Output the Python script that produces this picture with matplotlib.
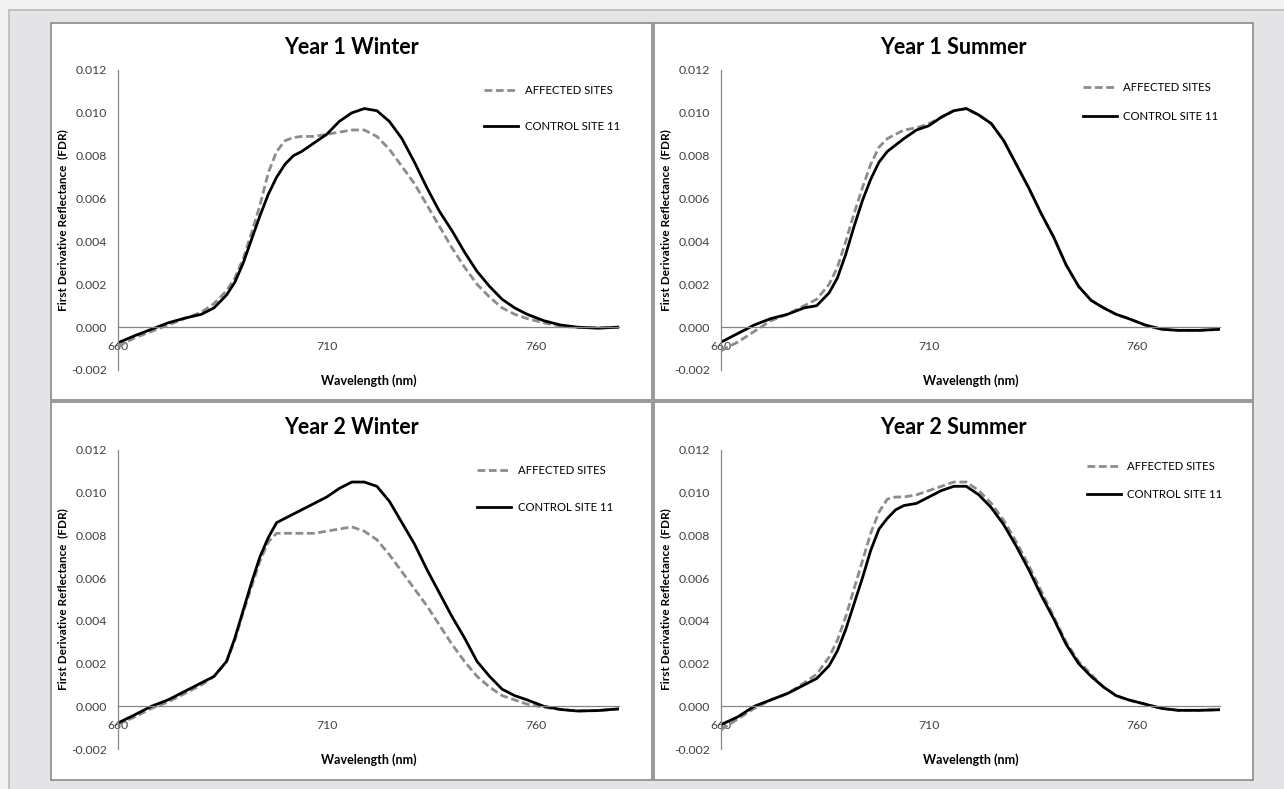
import numpy as np
import matplotlib
matplotlib.use("Agg")
import matplotlib.pyplot as plt
from matplotlib.patches import Rectangle

plt.rcParams['font.family'] = ['Lato', 'DejaVu Sans']

# wavelength grid (nm) shared by all panels
wavelength = [660, 664, 668, 672, 676, 680, 683, 686, 688, 690, 692, 694, 696, 698,
              700, 702, 704, 707, 710, 713, 716, 719, 722, 725, 728, 731, 734, 737,
              740, 743, 746, 749, 752, 755, 758, 762, 766, 770, 775, 780]

titles = ["Year 1 Winter", "Year 1 Summer", "Year 2 Winter", "Year 2 Summer"]
series_names = ["AFFECTED SITES", "CONTROL SITE 11"]
x_ticks = [660, 710, 760]
y_ticks = [-0.002, 0.000, 0.002, 0.004, 0.006, 0.008, 0.010, 0.012]

y1_winter_affected = [-0.0009, -0.0005, -0.0002, 0.0001, 0.0004, 0.0007, 0.0011, 0.0017, 0.0023, 0.0032,
                      0.0044, 0.0057, 0.0072, 0.0082, 0.0087, 0.00885, 0.0089, 0.0089, 0.0090, 0.0091,
                      0.0092, 0.0092, 0.0089, 0.0083, 0.0075, 0.0067, 0.0057, 0.0047, 0.0037, 0.0028,
                      0.0020, 0.0014, 0.0009, 0.0006, 0.0004, 0.0002, 0.00005, -0.00002, -0.00003, 0.0]
y1_winter_control = [-0.00073, -0.0004, -0.0001, 0.0002, 0.00042, 0.0006, 0.0009, 0.0015, 0.0021, 0.0030,
                     0.0041, 0.0052, 0.0062, 0.0070, 0.0076, 0.0080, 0.0082, 0.0086, 0.0090, 0.0096,
                     0.0100, 0.0102, 0.0101, 0.0096, 0.0088, 0.0077, 0.0065, 0.0054, 0.0045, 0.0035,
                     0.0026, 0.0019, 0.0013, 0.0009, 0.0006, 0.0003, 0.0001, 0.0, -0.00005, 0.0]

y1_summer_affected = [-0.0011, -0.0007, -0.0002, 0.0003, 0.0006, 0.0010, 0.0013, 0.0020, 0.0028, 0.0040,
                      0.0053, 0.0065, 0.0076, 0.0084, 0.0088, 0.0090, 0.0092, 0.0093, 0.0095, 0.0098,
                      0.0101, 0.0102, 0.0099, 0.0095, 0.0087, 0.0076, 0.0065, 0.0053, 0.0042, 0.0029,
                      0.0019, 0.00125, 0.0009, 0.0006, 0.0004, 0.0001, -0.0001, -0.00015, -0.00015, -0.0001]
y1_summer_control = [-0.0007, -0.0003, 0.0001, 0.0004, 0.0006, 0.0009, 0.0010, 0.0016, 0.0023, 0.0034,
                     0.0047, 0.0059, 0.0069, 0.0077, 0.0082, 0.0085, 0.0088, 0.0092, 0.0094, 0.0098,
                     0.0101, 0.0102, 0.0099, 0.0095, 0.0087, 0.0076, 0.0065, 0.0053, 0.0042, 0.0029,
                     0.0019, 0.00125, 0.0009, 0.0006, 0.0004, 0.0001, -0.0001, -0.00015, -0.00015, -0.0001]

y2_winter_affected = [-0.00085, -0.0005, -0.0001, 0.0002, 0.0006, 0.0010, 0.0014, 0.0021, 0.0031, 0.0044,
                      0.0056, 0.0068, 0.0077, 0.0081, 0.0081, 0.0081, 0.0081, 0.0081, 0.0082, 0.0083,
                      0.0084, 0.0082, 0.0078, 0.0071, 0.0063, 0.0055, 0.0047, 0.0038, 0.0029, 0.0021,
                      0.0014, 0.0009, 0.0005, 0.0003, 0.0001, -0.00005, -0.00015, -0.00022, -0.0002, -0.00012]
y2_winter_control = [-0.00078, -0.0004, 0.0, 0.0003, 0.0007, 0.0011, 0.0014, 0.0021, 0.0032, 0.0045,
                     0.0058, 0.0070, 0.0079, 0.0086, 0.0088, 0.0090, 0.0092, 0.0095, 0.0098, 0.0102,
                     0.0105, 0.0105, 0.0103, 0.0096, 0.0086, 0.0076, 0.0064, 0.0053, 0.0042, 0.0032,
                     0.0021, 0.0014, 0.0008, 0.0005, 0.0003, 0.0, -0.00015, -0.00022, -0.0002, -0.00012]

y2_summer_affected = [-0.0011, -0.0006, -0.0001, 0.0003, 0.0006, 0.0011, 0.0015, 0.0023, 0.0031, 0.0042,
                      0.0055, 0.0068, 0.0081, 0.0091, 0.0097, 0.0098, 0.0098, 0.0099, 0.0101, 0.0103,
                      0.0105, 0.0105, 0.0101, 0.0095, 0.0087, 0.0077, 0.0066, 0.0054, 0.0042, 0.0030,
                      0.0021, 0.0015, 0.0009, 0.0005, 0.0003, 0.0001, -0.0001, -0.00019, -0.00019, -0.00016]
y2_summer_control = [-0.00086, -0.0005, 0.0, 0.0003, 0.0006, 0.0010, 0.0013, 0.0019, 0.0026, 0.0036,
                     0.0048, 0.0060, 0.0073, 0.0083, 0.0088, 0.0092, 0.0094, 0.0095, 0.0098, 0.0101,
                     0.0103, 0.0103, 0.0099, 0.0093, 0.0085, 0.0075, 0.0064, 0.0052, 0.0041, 0.0029,
                     0.0020, 0.0014, 0.0009, 0.0005, 0.0003, 0.0001, -0.0001, -0.00019, -0.00019, -0.00016]

affected = [y1_winter_affected, y1_summer_affected, y2_winter_affected, y2_summer_affected]
control = [y1_winter_control, y1_summer_control, y2_winter_control, y2_summer_control]

W, H = 1284, 789
fig = plt.figure(figsize=(W / 100, H / 100), dpi=100)
fig.patch.set_facecolor('#f2f2f2')


def fx(px):
    return px / W


def fy(py):
    return 1 - py / H


# outer sheet + the four chart boxes (pixel layout)
fig.patches.append(Rectangle((fx(9), fy(795)), fx(1300), 785 / H, transform=fig.transFigure,
                             facecolor='#e4e4e6', edgecolor='#b9b9b9', lw=1.2, zorder=0))
boxes = [(51, 23, 652, 400), (654, 23, 1253, 400), (51, 402, 652, 780), (654, 402, 1253, 780)]
for x0, y0, x1, y1 in boxes:
    fig.patches.append(Rectangle((fx(x0), fy(y1)), fx(x1 - x0), (y1 - y0) / H,
                                 transform=fig.transFigure, facecolor='white',
                                 edgecolor='#8a8a8a', lw=1.2, zorder=0))

# axes areas: (left, top, right, bottom) in pixels
areas = [(118, 70, 619, 370), (721, 70, 1220, 370), (118, 450, 619, 749), (721, 450, 1220, 749)]
legend_anchor = [(0.731, 0.950), (0.725, 0.960), (0.717, 0.950), (0.733, 0.963)]
legend_spacing = [2.2, 1.6, 2.3, 1.5]

for i in range(4):
    l, t, r, b = areas[i]
    ax = fig.add_axes([fx(l), fy(b), fx(r - l), (b - t) / H], zorder=2)
    ax.set_facecolor('none')
    ax.plot(wavelength, affected[i], color='#8c8c8c', lw=2.0, dashes=[2.8, 1.3],
            label=series_names[0])
    ax.plot(wavelength, control[i], color='black', lw=2.0, label=series_names[1])

    ax.set_xlim(660, 780)
    ax.set_ylim(-0.002, 0.012)
    ax.set_xticks(x_ticks)
    ax.set_yticks(y_ticks)
    ax.set_yticklabels([f"{v:.3f}" for v in y_ticks])

    for s in ['top', 'right']:
        ax.spines[s].set_visible(False)
    ax.spines['bottom'].set_position(('data', 0))
    ax.spines['left'].set_position(('data', 660))
    for s in ['bottom', 'left']:
        ax.spines[s].set_color('#868686')
        ax.spines[s].set_linewidth(0.9)
    ax.tick_params(length=0, labelsize=8.8, labelcolor='#404040')
    ax.tick_params(axis='y', pad=8)
    ax.tick_params(axis='x', pad=10)

    ax.set_ylabel("First Derivative Reflectance  (FDR)", fontsize=8.5, fontweight='bold')
    ax.yaxis.set_label_coords(-50 / (r - l), 0.5)
    ax.set_xlabel("Wavelength (nm)", fontsize=9, fontweight='bold')
    ax.xaxis.label.set_va('center')
    ax.xaxis.set_label_coords(0.5, -11 / (b - t))

    x0, y0, x1, y1 = boxes[i]
    fig.text(fx((x0 + x1) / 2), fy(t - 23), titles[i], ha='center', va='center',
             fontsize=15.5, fontweight='bold', zorder=3)

    ax.legend(loc='upper left', bbox_to_anchor=legend_anchor[i], frameon=False,
              fontsize=8.2, handlelength=3.0, handletextpad=0.55, borderpad=0,
              borderaxespad=0, labelspacing=legend_spacing[i])

fig.savefig("out.png", dpi=100, facecolor=fig.get_facecolor())
